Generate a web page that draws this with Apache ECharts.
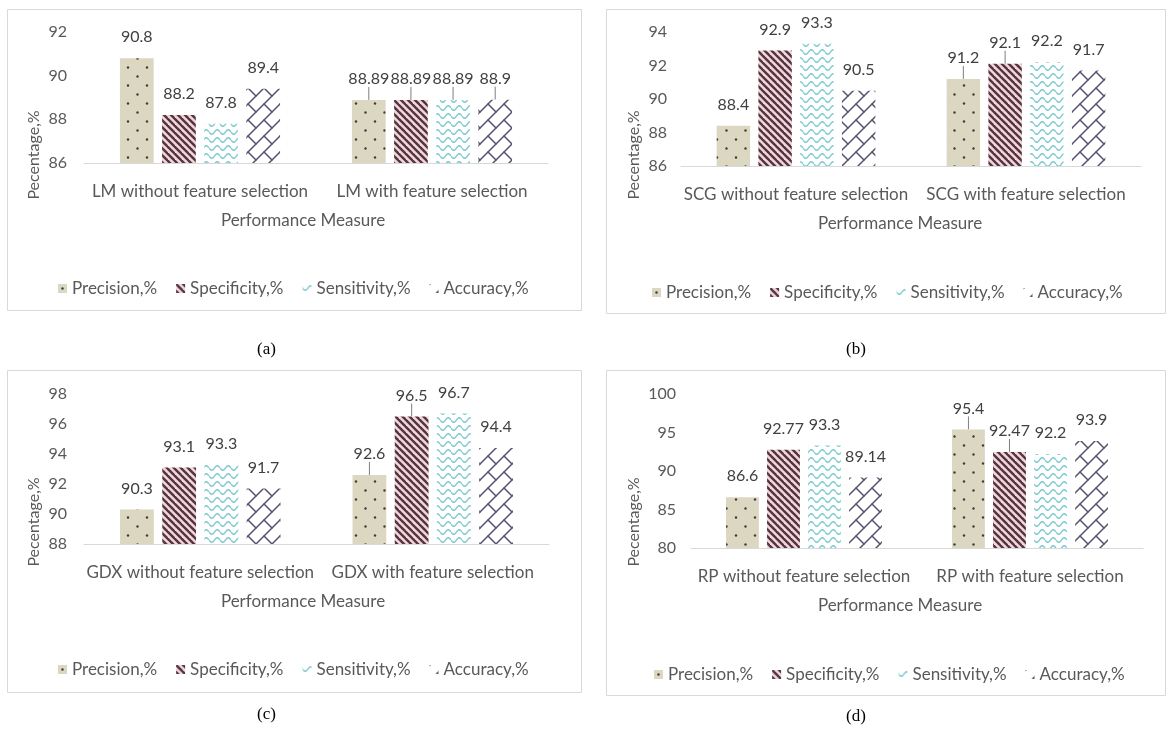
<!DOCTYPE html>
<html>
<head>
<meta charset="utf-8">
<script src="https://cdn.jsdelivr.net/npm/echarts@6/dist/echarts.min.js"></script>
<style>
  html, body { margin: 0; padding: 0; background: #fff; }
  #chart { width: 1168px; height: 740px; }
</style>
</head>
<body>
<div id="chart"></div>
<script>
// ---------------- data ----------------
const seriesNames = ['Precision,%', 'Specificity,%', 'Sensitivity,%', 'Accuracy,%'];

const categoriesA = ['LM without feature selection', 'LM with feature selection'];
const precisionA = [90.8, 88.89];
const specificityA = [88.2, 88.89];
const sensitivityA = [87.8, 88.89];
const accuracyA = [89.4, 88.9];

const categoriesB = ['SCG without feature selection', 'SCG with feature selection'];
const precisionB = [88.4, 91.2];
const specificityB = [92.9, 92.1];
const sensitivityB = [93.3, 92.2];
const accuracyB = [90.5, 91.7];

const categoriesC = ['GDX without feature selection', 'GDX with feature selection'];
const precisionC = [90.3, 92.6];
const specificityC = [93.1, 96.5];
const sensitivityC = [93.3, 96.7];
const accuracyC = [91.7, 94.4];

const categoriesD = ['RP without feature selection', 'RP with feature selection'];
const precisionD = [86.6, 95.4];
const specificityD = [92.77, 92.47];
const sensitivityD = [93.3, 92.2];
const accuracyD = [89.14, 93.9];

// y-axis ranges [min, max, interval]
const yRangeA = [86, 92, 2];
const yRangeB = [86, 94, 2];
const yRangeC = [88, 98, 2];
const yRangeD = [80, 100, 5];

// data indices whose labels have leader lines (per series)
const leadersA = [[1], [1], [1], [1]];
const leadersB = [[1], [1], [], []];
const leadersC = [[1], [1], [], []];
const leadersD = [[1], [1], [], []];

const captions = ['(a)', '(b)', '(c)', '(d)'];
const yAxisTitle = 'Pecentage,%';
const xAxisTitle = 'Performance Measure';

// ---------------- patterns ----------------
function cv(w, h) { const c = document.createElement('canvas'); c.width = w; c.height = h; return c; }
function dotsPattern() {
  const c = cv(19, 18), g = c.getContext('2d');
  g.fillStyle = '#dbd7c1'; g.fillRect(0, 0, 19, 18);
  g.fillStyle = '#3d3d3d';
  [[4.5, 4.5], [14, 13.5]].forEach(p => { g.beginPath(); g.arc(p[0], p[1], 1.2, 0, Math.PI * 2); g.fill(); });
  return c;
}
function stripePattern() {
  const s = 7, c = cv(s, s), g = c.getContext('2d');
  g.fillStyle = '#f5d5d8'; g.fillRect(0, 0, s, s);
  g.strokeStyle = '#4e3643'; g.lineWidth = 2.4;
  [[-s, 0], [0, 0], [s, 0]].forEach(o => {
    g.beginPath(); g.moveTo(o[0] - 2, -2); g.lineTo(o[0] + s + 2, s + 2); g.stroke();
  });
  return c;
}
function wavePattern() {
  const w = 11, h = 8, c = cv(w, h), g = c.getContext('2d');
  g.fillStyle = '#ffffff'; g.fillRect(0, 0, w, h);
  g.strokeStyle = '#7fcbd0'; g.lineWidth = 1.5;
  g.beginPath();
  for (let x = 0; x <= w; x += 0.5) {
    const y = 4 + 2.2 * Math.sin(2 * Math.PI * x / w);
    if (x === 0) g.moveTo(x, y); else g.lineTo(x, y);
  }
  g.stroke();
  return c;
}
function brickPattern() {
  const s = 16, c = cv(s, s), g = c.getContext('2d');
  g.fillStyle = '#ffffff'; g.fillRect(0, 0, s, s);
  g.strokeStyle = '#56516b'; g.lineWidth = 1.5; g.lineCap = 'round';
  const seg = (a, b, c2, d) => { g.beginPath(); g.moveTo(a, b); g.lineTo(c2, d); g.stroke(); };
  seg(-2, s + 2, s + 2, -2);
  seg(-s - 2, s + 2, 2, -2);
  seg(-2, 2 * s + 2, 2 * s + 2, -2);
  seg(8, 8, 16, 16); seg(-8, 8, 0, 16); seg(8, -8, 16, 0); seg(-8, -8, 0, 0);
  return c;
}
const fills = [dotsPattern(), stripePattern(), wavePattern(), brickPattern()]
  .map(c => ({ image: c, repeat: 'repeat' }));

// ---------------- layout ----------------
const FONT = 'Lato';
const TXT = '#595959';
const panels = [
  { cats: categoriesA, vals: [precisionA, specificityA, sensitivityA, accuracyA], yr: yRangeA, lead: leadersA,
    frame: [7, 9, 574, 301], grid: { left: 84, top: 32, width: 464, height: 131 },
    yMargin: 17, yNameGap: 42, yShift: 115, xNamePad: [0, 26, 0, 0], legend: { left: 53, top: 275 }, cap: { left: 257, top: 341 } },
  { cats: categoriesB, vals: [precisionB, specificityB, sensitivityB, accuracyB], yr: yRangeB, lead: leadersB,
    frame: [606, 9, 559, 304], grid: { left: 681, top: 32, width: 460, height: 134 },
    yMargin: 14, yNameGap: 39, yShift: 112, xNamePad: [0, 22, 0, 0], legend: { left: 647, top: 279 }, cap: { left: 846, top: 341 } },
  { cats: categoriesC, vals: [precisionC, specificityC, sensitivityC, accuracyC], yr: yRangeC, lead: leadersC,
    frame: [7, 370, 574, 322], grid: { left: 84, top: 394, width: 465, height: 150 },
    yMargin: 17, yNameGap: 42, yShift: 106, xNamePad: [0, 27, 0, 0], legend: { left: 53, top: 656 }, cap: { left: 257, top: 706 } },
  { cats: categoriesD, vals: [precisionD, specificityD, sensitivityD, accuracyD], yr: yRangeD, lead: leadersD,
    frame: [606, 370, 559, 325], grid: { left: 691, top: 394, width: 452, height: 154 },
    yMargin: 15, yNameGap: 49, yShift: 102, xNamePad: [0, 34, 0, 0], legend: { left: 649, top: 661 }, cap: { left: 846, top: 708 } }
];

const option = {
  animation: false,
  backgroundColor: '#ffffff',
  textStyle: { fontFamily: FONT },
  graphic: panels.map(p => ({
    type: 'rect', z: 0, silent: true,
    shape: { x: p.frame[0] + 0.5, y: p.frame[1] + 0.5, width: p.frame[2], height: p.frame[3] },
    style: { fill: '#ffffff', stroke: '#d9d9d9', lineWidth: 1 }
  })),
  title: panels.map((p, i) => ({
    text: captions[i], left: p.cap.left, top: p.cap.top, padding: 0,
    textStyle: { fontFamily: 'Liberation Serif', fontSize: 17, fontWeight: 'normal', color: '#000000' }
  })),
  legend: panels.map(p => ({
    data: seriesNames, left: p.legend.left, top: p.legend.top,
    itemWidth: 9, itemHeight: 9, itemGap: 19, icon: 'rect',
    textStyle: { fontFamily: FONT, fontSize: 17, color: TXT }
  })),
  grid: panels.map(p => Object.assign({ containLabel: false }, p.grid)),
  xAxis: panels.map((p, i) => ({
    type: 'category', gridIndex: i, data: p.cats,
    axisLine: { lineStyle: { color: '#d9d9d9', width: 1 } },
    axisTick: { show: false },
    axisLabel: { color: TXT, fontSize: 17, margin: 20, fontFamily: FONT, interval: 0 },
    name: xAxisTitle, nameLocation: 'middle', nameGap: 49,
    nameTextStyle: { color: TXT, fontSize: 17, fontFamily: FONT, padding: p.xNamePad }
  })),
  yAxis: panels.map((p, i) => ({
    type: 'value', gridIndex: i, min: p.yr[0], max: p.yr[1], interval: p.yr[2],
    axisLine: { show: false }, axisTick: { show: false }, splitLine: { show: false },
    axisLabel: { color: TXT, fontSize: 16, margin: p.yMargin, fontFamily: FONT },
    name: yAxisTitle, nameLocation: 'middle', nameGap: p.yNameGap,
    nameTextStyle: { color: TXT, fontSize: 16, fontFamily: FONT, padding: [0, p.yShift, 0, 0] }
  })),
  series: []
};

panels.forEach((p, pi) => {
  seriesNames.forEach((name, si) => {
    option.series.push({
      type: 'bar', name: name, xAxisIndex: pi, yAxisIndex: pi,
      barCategoryGap: '31%', barGap: '25%',
      itemStyle: { color: fills[si] },
      label: { show: true, position: 'top', distance: 5, color: '#404040', fontSize: 16, fontFamily: FONT },
      labelLayout: function () { return { dy: -8 }; },
      labelLine: { show: false, lineStyle: { color: '#7f7f7f', width: 1 } },
      data: p.vals[si].map((v, di) => p.lead[si].indexOf(di) >= 0
        ? { value: v, labelLine: { show: true, lineStyle: { color: '#7f7f7f', width: 1 } } }
        : v)
    });
  });
});

const chart = echarts.init(document.getElementById('chart'), null, { renderer: 'canvas' });
chart.setOption(option);
</script>
</body>
</html>
